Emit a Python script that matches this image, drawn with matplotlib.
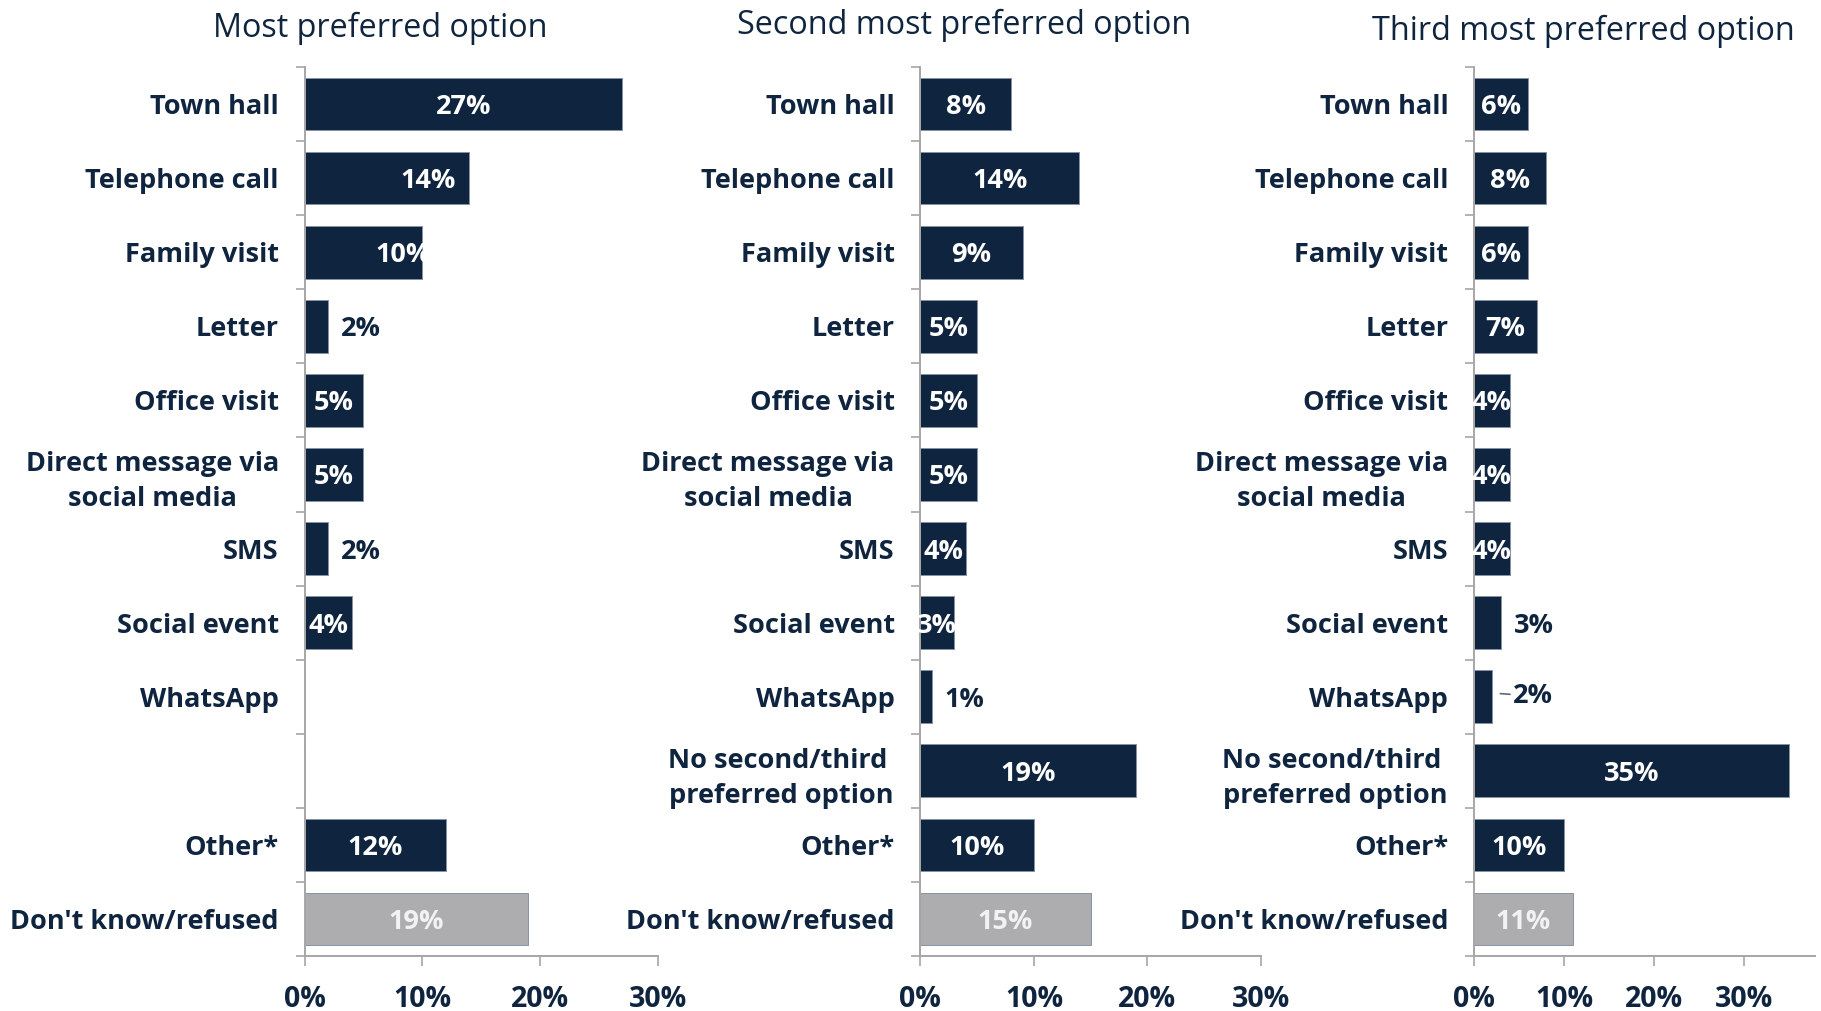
import numpy as np
import matplotlib
matplotlib.use("Agg")
import matplotlib.pyplot as plt

plt.rcParams['font.family'] = ['Open Sans', 'DejaVu Sans']

categories = ["Town hall", "Telephone call", "Family visit", "Letter", "Office visit",
              "Direct message via\nsocial media", "SMS", "Social event", "WhatsApp",
              "No second/third \npreferred option", "Other*", "Don't know/refused"]
titles = ["Most preferred option", "Second most preferred option", "Third most preferred option"]

most_preferred = [27, 14, 10, 2, 5, 5, 2, 4, np.nan, np.nan, 12, 19]
second_preferred = [8, 14, 9, 5, 5, 5, 4, 3, 1, 19, 10, 15]
third_preferred = [6, 8, 6, 7, 4, 4, 4, 3, 2, 35, 10, 11]
x_ticks = [0, 10, 20, 30]
x_tick_labels = ["0%", "10%", "20%", "30%"]

series = [most_preferred, second_preferred, third_preferred]

NAVY = "#0F243E"
GRAY = "#ADADAF"
AXIS = "#A6A6A6"
W, H = 1821, 1011
DPI = 100

fig = plt.figure(figsize=(W / DPI, H / DPI), dpi=DPI)

# axes placement in pixels: (left, right_at_xmax, xmax)
panel_px = [(304.5, 657.6, 30), (920.4, 1261.0, 30), (1474.0, 1815.0, 37.9)]
top_px, bot_px = 67.0, 956.0
title_pos = [(380, 28), (964, 25.5), (1583, 31.5)]

# label placement style: which bars carry labels outside; label shift for some inside labels
outside = [{3, 6}, {8}, {7, 8}]
inside_shift = [{1: 3.5, 2: 3.4}, {}, {}]

LBL = 19.5
n = len(categories)
ypos = np.arange(n)

for p, vals in enumerate(series):
    l, r, xmax = panel_px[p]
    ax = fig.add_axes([l / W, 1 - bot_px / H, (r - l) / W, (bot_px - top_px) / H])
    vals = np.array(vals, dtype=float)
    colors = [NAVY] * (n - 1) + [GRAY]
    ax.barh(ypos, np.nan_to_num(vals), height=0.71, color=colors,
            edgecolor="#8593A6", linewidth=0.7, zorder=2)
    ax.set_xlim(0, xmax)
    ax.set_ylim(n - 0.5, -0.5)

    labels = list(categories)
    if p == 0:
        labels[9] = ""
    ax.set_yticks(ypos)
    ax.set_yticklabels(labels, fontsize=LBL, fontweight='bold', color=NAVY,
                       multialignment='center', linespacing=1.45)
    ax.set_yticks(np.arange(-0.5, n, 1.0), minor=True)
    ax.tick_params(axis='y', which='major', length=0, pad=18.5)
    ax.tick_params(axis='y', which='minor', length=6.5, width=1.2, color=AXIS, direction='out')

    ax.set_xticks(x_ticks)
    ax.set_xticklabels(x_tick_labels, fontsize=20.5, fontweight='bold', color=NAVY)
    ax.tick_params(axis='x', length=7, width=1.2, color=AXIS, pad=14)

    for s in ['top', 'right']:
        ax.spines[s].set_visible(False)
    for s in ['left', 'bottom']:
        ax.spines[s].set_color(AXIS)
        ax.spines[s].set_linewidth(1.4)

    for i, v in enumerate(vals):
        if np.isnan(v):
            continue
        txt = f"{v:.0f}%"
        if i in outside[p]:
            if p == 2 and i == 8:
                ax.annotate(txt, xy=(v, i - 0.05), xytext=(15, 0), textcoords='offset points',
                            ha='left', va='center_baseline', fontsize=LBL, fontweight='bold',
                            color=NAVY,
                            arrowprops=dict(arrowstyle='-', color='#5B6B80', lw=1.2,
                                            shrinkA=0, shrinkB=6))
            else:
                ax.annotate(txt, xy=(v, i), xytext=(9, 0), textcoords='offset points',
                            ha='left', va='center_baseline', fontsize=LBL, fontweight='bold',
                            color=NAVY)
        else:
            xc = v / 2 + inside_shift[p].get(i, 0)
            col = "#F2F2F2" if i == n - 1 else "white"
            ax.text(xc, i, txt, ha='center', va='center_baseline', fontsize=LBL,
                    fontweight='bold', color=col, zorder=3)

    tx, ty = title_pos[p]
    fig.text(tx / W, 1 - ty / H, titles[p], ha='center', va='center',
             fontsize=23.3, color=NAVY)

fig.savefig("out.png", dpi=DPI)
